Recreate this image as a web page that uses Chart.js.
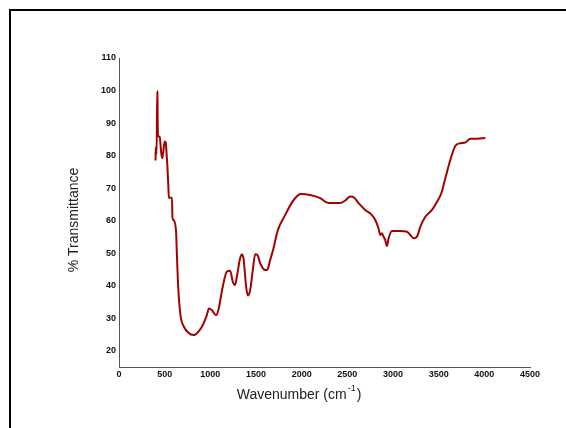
<!DOCTYPE html>
<html>
<head>
<meta charset="utf-8">
<script src="https://cdn.jsdelivr.net/npm/chart.js@4.4.1/dist/chart.umd.min.js"></script>
<style>
    html, body { margin: 0; padding: 0; background: #fff; }
    #frame {
        position: absolute; left: 9px; top: 9px; width: 566px; height: 428px;
        border-top: 2px solid #000; border-left: 2px solid #000;
    }
    #wrap { position: absolute; left: 0; top: 0; width: 566px; height: 428px; }
</style>
</head>
<body>
<div id="frame"></div>
<div id="wrap"><canvas id="ftir"></canvas></div>
<script>
// FTIR spectrum
const wavenumbers = [400, 402, 412, 418, 422, 424, 430, 445, 462, 472, 482, 500, 512, 522, 530, 540, 546, 580, 585, 596,
    625, 632, 650, 676, 712, 760, 815, 851, 906, 961, 985, 1016, 1063, 1088, 1136, 1180, 1217, 1246, 1271, 1290,
    1326, 1345, 1363, 1392, 1410, 1436, 1465, 1491, 1517, 1546, 1600, 1626, 1655, 1692, 1721, 1739, 1819, 1896,
    1951, 1990, 2093, 2203, 2294, 2422, 2477, 2532, 2568, 2623, 2696, 2770, 2806, 2842, 2861, 2879, 2897, 2915,
    2934, 2952, 2989, 3080, 3153, 3189, 3226, 3263, 3299, 3354, 3427, 3482, 3530, 3573, 3628, 3683, 3737, 3792,
    3847, 3920, 4011];
const transmittance = [78.5, 82.5, 80.5, 99.8, 97, 89, 86, 85.8, 81, 79.2, 80.5, 84.3, 84, 80, 76.6, 71, 67, 67, 61, 60.2,
    56.6, 51, 38.6, 30.4, 27.3, 25.5, 24.8, 25.3, 27.3, 30.9, 33, 32.5, 30.9, 32.5, 39.7, 44.3, 44.6, 41.2, 40.2, 42.7,
    48.4, 49.6, 48.4, 39.7, 37, 38.6, 44.8, 49.7, 49.4, 46.9, 44.8, 45, 47.9, 51.5, 55.1, 57.1, 61.7, 65.7,
    67.6, 68.2, 67.9, 66.9, 65.4, 65.4, 66.2, 67.4, 67.2, 65.4, 63.3, 61.7, 60.2, 57.6, 55.6, 56.1, 55.1, 54,
    52.2, 54.6, 56.8, 56.8, 56.6, 55.6, 54.6, 55.1, 58.1, 61.2, 63.3, 65.8, 68.5, 73, 78.7, 83, 83.8, 84,
    85.2, 85.2, 85.4];
const xTicks = [0, 500, 1000, 1500, 2000, 2500, 3000, 3500, 4000, 4500];
const yTicks = [20, 30, 40, 50, 60, 70, 80, 90, 100, 110];

const xTitle = 'Wavenumber (cm';
const xTitleSup = '-1';
const yTitle = '% Transmittance';

const points = wavenumbers.map((w, i) => ({ x: w, y: transmittance[i] }));

// axis titles drawn by hand so they sit where the original has them
const titlesPlugin = {
    id: 'titles',
    afterDraw(chart) {
        const ctx = chart.ctx;
        ctx.save();
        ctx.fillStyle = '#222';
        ctx.textBaseline = 'middle';

        ctx.font = '14px "Liberation Sans", Arial, sans-serif';
        const w1 = ctx.measureText(xTitle).width;
        ctx.font = '9px "Liberation Sans", Arial, sans-serif';
        const w2 = ctx.measureText(xTitleSup).width;
        ctx.font = '14px "Liberation Sans", Arial, sans-serif';
        const w3 = ctx.measureText(')').width;
        let x = 299 - (w1 + w2 + w3 + 2) / 2;
        const y = 395;
        ctx.textAlign = 'left';
        ctx.fillText(xTitle, x, y);
        x += w1 + 1;
        ctx.font = '9px "Liberation Sans", Arial, sans-serif';
        ctx.fillText(xTitleSup, x, y - 6);
        x += w2 + 1;
        ctx.font = '14px "Liberation Sans", Arial, sans-serif';
        ctx.fillText(')', x, y);

        ctx.translate(74, 220);
        ctx.rotate(-Math.PI / 2);
        ctx.textAlign = 'center';
        ctx.fillText(yTitle, 0, 0);
        ctx.restore();
    }
};

const tickFont = { family: '"Liberation Sans", Arial, sans-serif', size: 9, weight: 'bold' };

new Chart(document.getElementById('ftir'), {
    type: 'line',
    data: {
        datasets: [{
            data: points,
            borderColor: '#a30000',
            borderWidth: 2,
            pointRadius: 0,
            cubicInterpolationMode: 'monotone',
            fill: false
        }]
    },
    options: {
        responsive: true,
        maintainAspectRatio: false,
        animation: false,
        layout: { padding: { top: 58, right: 36, bottom: 0, left: 0 } },
        plugins: { legend: { display: false }, tooltip: { enabled: false } },
        scales: {
            x: {
                type: 'linear',
                min: 0,
                max: 4500,
                afterBuildTicks: (scale) => { scale.ticks = xTicks.map(v => ({ value: v })); },
                afterFit: (scale) => { scale.height = 61; },
                grid: { display: false, drawTicks: false },
                border: { display: true, color: '#555', width: 1 },
                ticks: {
                    font: tickFont, color: '#111', padding: 2, maxRotation: 0, autoSkip: false,
                    callback: (v) => String(v)
                }
            },
            y: {
                min: 15,
                max: 110,
                afterBuildTicks: (scale) => { scale.ticks = yTicks.map(v => ({ value: v })); },
                afterFit: (scale) => { scale.width = 119; },
                grid: { display: false, drawTicks: false },
                border: { display: true, color: '#555', width: 1 },
                ticks: {
                    font: tickFont, color: '#111', padding: 3, autoSkip: false,
                    callback: (v) => String(v)
                }
            }
        }
    },
    plugins: [titlesPlugin]
});
</script>
</body>
</html>
